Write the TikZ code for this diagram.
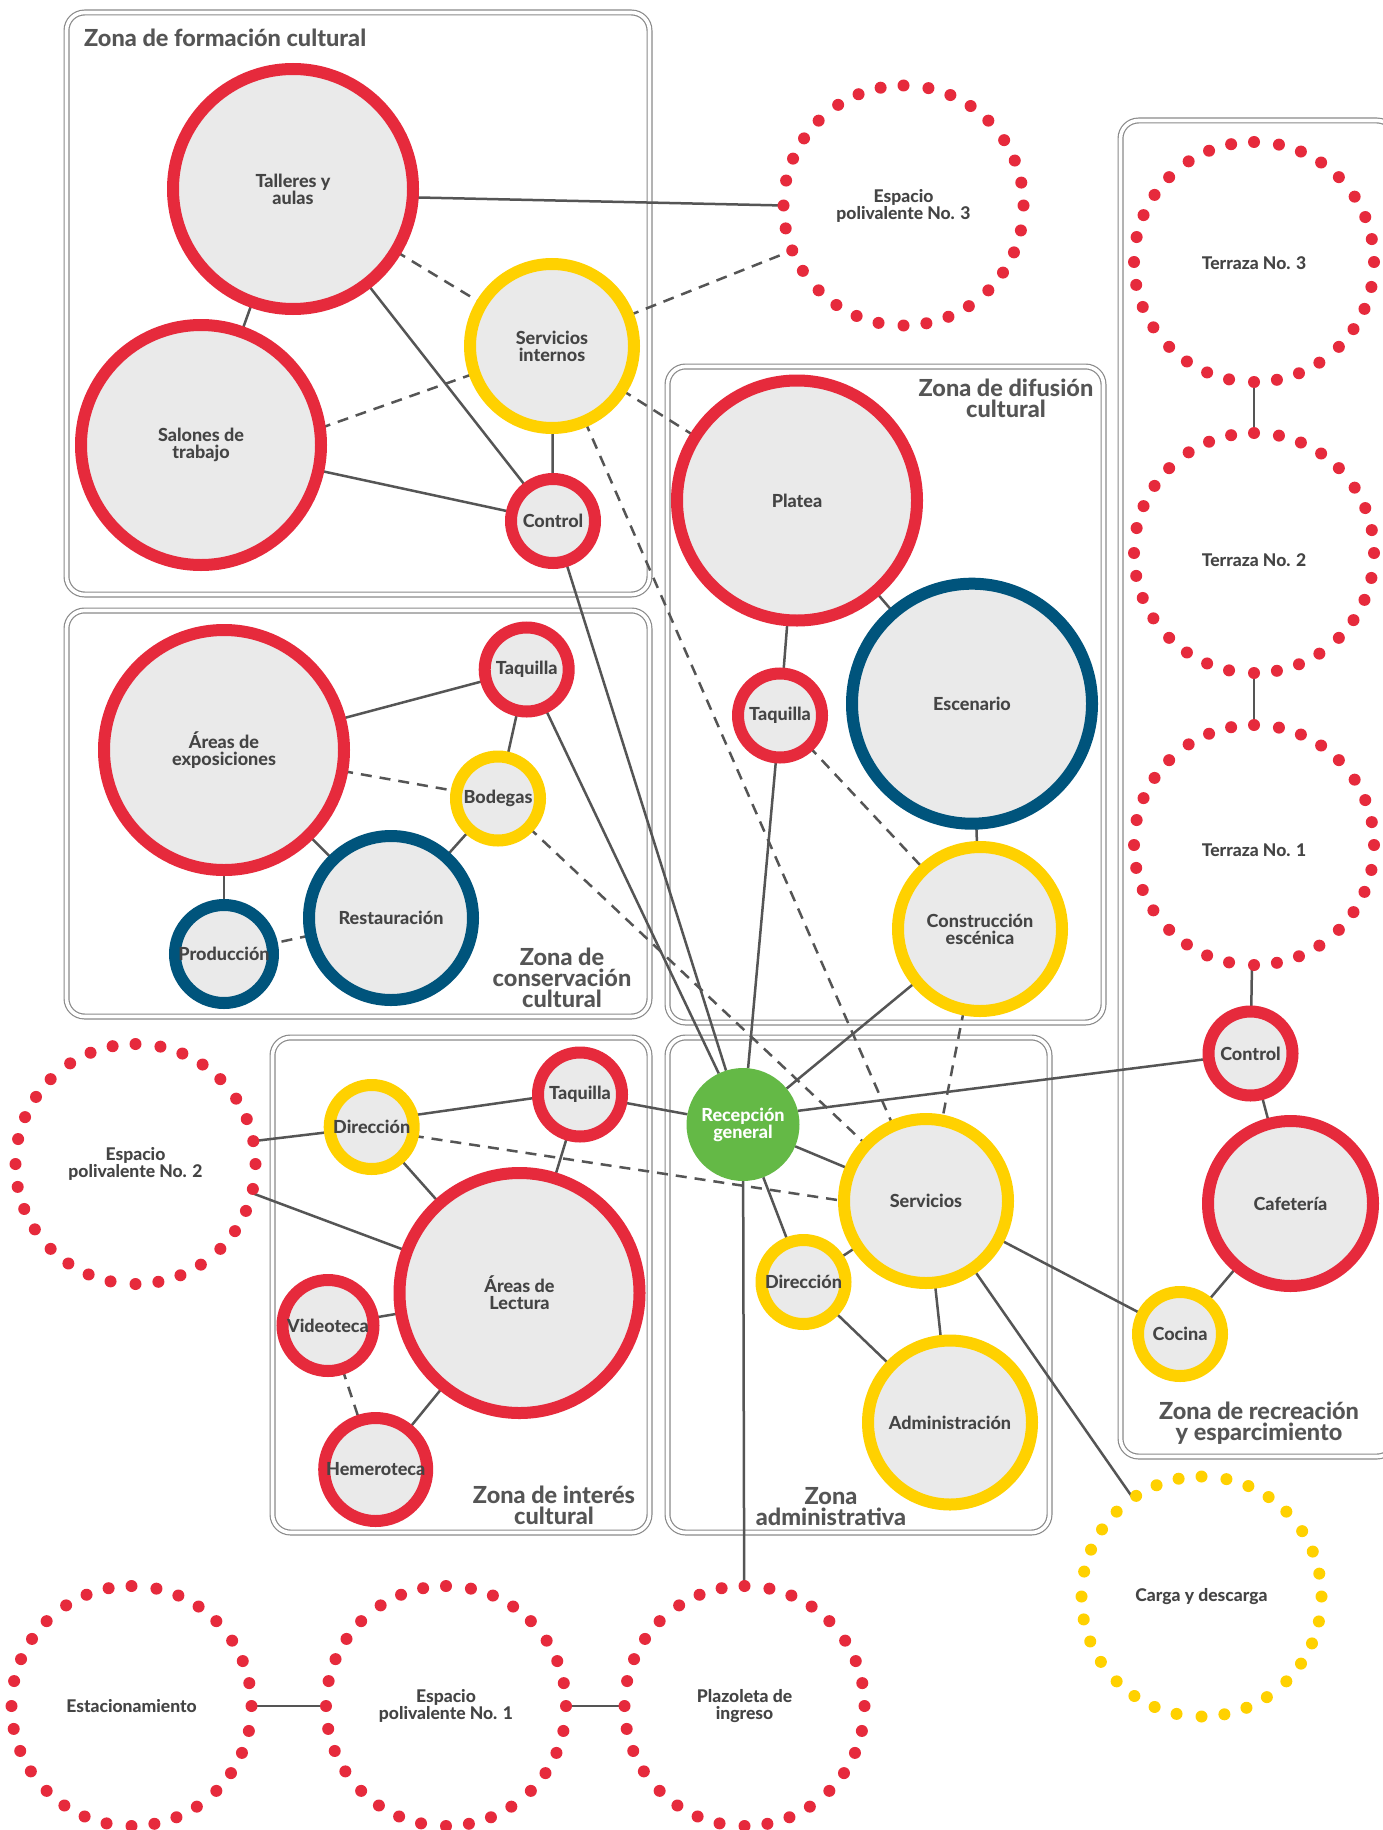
\documentclass[tikz,border=0pt]{standalone}
\usepackage{fontspec}
\setmainfont{Lato}[BoldFont={Lato Heavy}]
\usetikzlibrary{backgrounds}

\definecolor{zred}{HTML}{E62A3C}
\definecolor{zyellow}{HTML}{FFD100}
\definecolor{zblue}{HTML}{00547C}
\definecolor{zgreen}{HTML}{64B946}
\definecolor{zfill}{HTML}{EAEAEA}
\definecolor{ztext}{HTML}{444444}
\definecolor{zline}{HTML}{555555}
\definecolor{zbox}{HTML}{8A8A8A}
\definecolor{ztitle}{HTML}{555555}

\tikzset{
  room/.style={circle, fill=zfill, line width=12pt, inner sep=0pt, outer sep=0pt,
    align=center, text=ztext, font=\bfseries\fontsize{18}{17}\selectfont},
  roomL/.style={room, minimum size=240pt},
  roomM/.style={room, minimum size=164pt},
  roomS/.style={room, minimum size=84pt},
  rr/.style={draw=zred},
  ry/.style={draw=zyellow},
  rb/.style={draw=zblue},
  open/.style={circle, minimum size=240pt, inner sep=0pt, outer sep=0pt,
    align=center, text=ztext, font=\bfseries\fontsize{17.5}{17}\selectfont},
  zone/.style={draw=zbox, double=white, double distance=3.6pt, line width=1.2pt,
    rounded corners=18pt},
  zonetitle/.style={text=ztitle, font=\bfseries\fontsize{23.5}{21}\selectfont,
    align=center, inner sep=0pt},
  link/.style={draw=zline, line width=2.5pt},
  maybe/.style={link, dash pattern=on 11pt off 8pt},
}

\begin{document}
\begin{tikzpicture}[x=1pt, y=-1pt]
\useasboundingbox (0,0) rectangle (1382,1830);

% page ground and zone frames
\begin{scope}[on background layer]
  \fill[white] (0,0) rectangle (1382,1830);
  \draw[zone] (66.5,12.5) rectangle (649.5,594.5);
  \draw[zone] (66.5,610.5) rectangle (649.5,1016.5);
  \draw[zone] (667.5,366.5) rectangle (1103.5,1022.5);
  \draw[zone] (272.5,1037.5) rectangle (649.5,1532.5);
  \draw[zone] (667.5,1037.5) rectangle (1049.5,1532.5);
  \draw[zone] (1120.5,120.5) rectangle (1395,1456.5);
\end{scope}

% zone titles
\node[zonetitle, anchor=base west] (tform) at (84,47) {Zona de formación cultural};
\node[zonetitle] (tcons) at (562,978) {Zona de\\conservación\\cultural};
\node[zonetitle] (tdif) at (1006,398.5) {Zona de difusión\\cultural};
\node[zonetitle] (tint) at (554,1505.5) {Zona de interés\\cultural};
\node[zonetitle] (tadm) at (831,1506.5) {Zona\\administrativa};
\node[zonetitle] (trec) at (1259,1423.5) {Zona de recreación\\y esparcimiento};

% formación cultural
\node[roomL, rr] (tall) at (293,189) {Talleres y\\aulas};
\node[roomL, rr] (sal) at (201,445) {Salones de\\trabajo};
\node[roomM, ry] (servint) at (552,346) {Servicios\\internos};
\node[roomS, rr] (ctrlf) at (553,521) {Control};

% difusión cultural
\node[roomL, rr] (plat) at (797,500.5) {Platea};
\node[roomL, rb] (esc) at (972,703.7) {Escenario};
\node[roomS, rr] (taqd) at (780,715.5) {Taquilla};
\node[roomM, ry] (cons) at (980,929) {Construcción\\escénica};

% conservación cultural
\node[roomL, rr] (expo) at (224,750) {Áreas de\\exposiciones};
\node[roomS, rr] (taqc) at (526.7,669.5) {Taquilla};
\node[roomS, ry] (bod) at (498,798.5) {Bodegas};
\node[roomM, rb] (rest) at (391,918) {Restauración};
\node[room, rb, minimum size=98pt] (prod) at (224,954) {Producción};

% interés cultural
\node[roomS, ry] (diri) at (371.7,1127) {Dirección};
\node[roomS, rr] (taqi) at (580,1094.5) {Taquilla};
\node[roomL, rr] (lect) at (519.5,1293) {Áreas de\\Lectura};
\node[room, rr, minimum size=91pt] (vid) at (328,1325.5) {Videoteca};
\node[room, rr, minimum size=103pt] (hem) at (375.7,1469.5) {Hemeroteca};

% administrativa
\node[circle, fill=zgreen, minimum size=113pt, inner sep=0pt, outer sep=0pt,
  align=center, text=white, font=\bfseries\fontsize{18}{17}\selectfont]
  (recep) at (743,1124.5) {Recepción\\general};
\node[roomM, ry] (serv) at (926,1201) {Servicios};
\node[roomS, ry] (dira) at (803.5,1282) {Dirección};
\node[roomM, ry] (adm) at (950,1422.5) {Administración};

% recreación y esparcimiento
\node[roomS, rr] (ctrlr) at (1250.5,1053.5) {Control};
\node[room, rr, minimum size=165pt] (caf) at (1290.5,1203.5) {Cafetería};
\node[roomS, ry] (coc) at (1180,1334) {Cocina};

% open-air spaces
\node[open] (esp3) at (903.5,205.5) {Espacio\\polivalente No. 3};
\node[open] (esp2) at (135.5,1164) {Espacio\\polivalente No. 2};
\node[open] (ter3) at (1254,262) {\raisebox{-7pt}[0pt][0pt]{Terraza No. 3}};
\node[open] (ter2) at (1254,553) {\raisebox{-13pt}[0pt][0pt]{Terraza No. 2}};
\node[open] (ter1) at (1254,845) {\raisebox{-11pt}[0pt][0pt]{Terraza No. 1}};
\node[open] (carga) at (1201.5,1596.5) {Carga y descarga};
\node[open] (est) at (131.5,1706) {Estacionamiento};
\node[open] (esp1) at (446,1706) {Espacio\\polivalente No. 1};
\node[open] (plaz) at (744.5,1706) {Plazoleta de\\ingreso};

\foreach \n in {esp3,esp2,ter3,ter2,ter1,est,esp1,plaz}{
  \foreach \a in {0,11.25,...,348.75}{
    \fill[zred] (\n.\a) circle[radius=6pt];
  }
}
\foreach \a in {0,11.25,...,348.75}{
  \fill[zyellow] (carga.\a) circle[radius=6pt];
}

% connections
\begin{scope}[on background layer]
  \draw[link] (tall.-4) -- (esp3.180);
  \draw[link] (tall) -- (sal);
  \draw[link] (tall) -- (ctrlf);
  \draw[link] (servint) -- (ctrlf);
  \draw[link] (sal) -- (ctrlf);
  \draw[link] (ctrlf) -- (recep);
  \draw[link] (plat) -- (esc);
  \draw[link] (plat) -- (taqd);
  \draw[link] (taqd) -- (recep);
  \draw[link] (esc) -- (cons);
  \draw[link] (cons) -- (recep);
  \draw[link] (taqc) -- (expo);
  \draw[link] (taqc) -- (bod);
  \draw[link] (taqc) -- (recep);
  \draw[link] (bod) -- (rest);
  \draw[link] (expo) -- (rest);
  \draw[link] (expo) -- (prod);
  \draw[link] (esp2.11.25) -- (diri);
  \draw[link] (esp2.-14.7) -- (lect);
  \draw[link] (diri.16) -- (taqi.184);
  \draw[link] (diri) -- (lect);
  \draw[link] (taqi) -- (lect);
  \draw[link] (taqi) -- (recep);
  \draw[link] (vid) -- (lect);
  \draw[link] (hem) -- (lect);
  \draw[link] (recep.14) -- (ctrlr);
  \draw[link] (recep) -- (serv);
  \draw[link] (recep) -- (dira);
  \draw[link] (recep) -- (plaz);
  \draw[link] (dira) -- (serv);
  \draw[link] (dira) -- (adm);
  \draw[link] (serv) -- (adm);
  \draw[link] (serv) -- (coc);
  \draw[link] (serv) -- (carga);
  \draw[link] (ctrlr) -- (caf);
  \draw[link] (caf) -- (coc);
  \draw[link] (ter3) -- (ter2);
  \draw[link] (ter2) -- (ter1);
  \draw[link] (ter1) -- (ctrlr);
  \draw[link] (est) -- (esp1);
  \draw[link] (esp1) -- (plaz);

  \draw[maybe] (tall) -- (servint);
  \draw[maybe] (sal.8) -- (servint);
  \draw[maybe] (servint) -- (esp3.202.5);
  \draw[maybe] (servint) -- (plat);
  \draw[maybe] (servint) -- (serv);
  \draw[maybe] (taqd) -- (cons);
  \draw[maybe] (cons) -- (serv);
  \draw[maybe] (expo) -- (bod);
  \draw[maybe] (rest) -- (prod);
  \draw[maybe] (bod) -- (serv);
  \draw[maybe] (diri.-12) -- (serv.180);
  \draw[maybe] (vid) -- (hem);
\end{scope}
\end{tikzpicture}
\end{document}
